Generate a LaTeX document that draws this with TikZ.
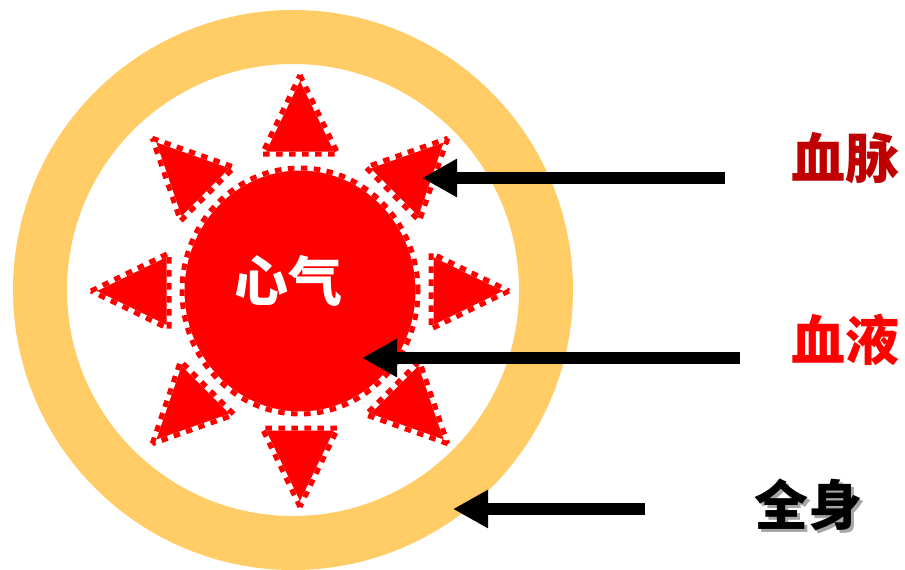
\documentclass[tikz,border=0pt]{standalone}
\usepackage{fontspec}
\newfontfamily\cjk{Noto Sans CJK SC}
\usetikzlibrary{arrows.meta,calc,shapes.geometric}
\definecolor{ringc}{HTML}{FFCC66}
\definecolor{darkred}{HTML}{C00000}
\definecolor{shadowgray}{HTML}{A6A6A6}
\newcommand{\shadowtext}[1]{\rlap{\kern3pt\raisebox{-3pt}{\textcolor{shadowgray}{#1}}}#1}
\begin{document}
\begin{tikzpicture}[x=1pt,y=-1pt,
  ray/.style={fill=red, draw=white, line width=5pt,
    postaction={draw=red, line width=5pt, dash pattern=on 6.5pt off 6.5pt}},
  heartc/.style={ellipse, inner sep=0pt, outer sep=0pt, minimum width=236pt,
    minimum height=246pt, fill=red, draw=white, line width=5pt,
    postaction={draw=red, line width=5pt, dash pattern=on 6.5pt off 6.5pt}},
  bigarrow/.style={line width=12.5pt, -{Triangle[length=35pt,width=36pt]}},
  lbl/.style={inner sep=0pt, font=\cjk\bfseries\fontsize{54}{54}\selectfont}]
\useasboundingbox (0,0) rectangle (905,570);
% whole body ring
\node[circle, draw=ringc, line width=54pt, inner sep=0pt, outer sep=0pt,
  minimum size=506pt] (body) at (293,290) {};
% sun
\coordinate (c) at (300,291);
\foreach \a in {0,45,...,315}{
  \path[ray] ($(c)+(\a:209 and 216)$) -- ($(c)+(\a:131 and 137)+(\a+90:38)$)
    -- ($(c)+(\a:131 and 137)+(\a-90:38)$) -- cycle;
}
\node[heartc] (heart) at (c) {};
\node[lbl, text=white] (xinqi) at (288,281) {心气};
% labels
\node[lbl, text=darkred] (xuemai) at (845,158) {血脉};
\node[lbl, text=red] (xueye) at (845,340) {血液};
\node[lbl, text=black] (quanshen) at (808,506) {\shadowtext{全身}};
% arrows
\coordinate (a1s) at (725,178); \coordinate (a1t) at (422,178);
\coordinate (a2s) at (740,358); \coordinate (a2t) at (362,358);
\coordinate (a3s) at (645,509); \coordinate (a3t) at (453,509);
\draw[bigarrow] (a1s) -- (a1t);
\draw[bigarrow] (a2s) -- (a2t);
\draw[bigarrow] (a3s) -- (a3t);
\end{tikzpicture}
\end{document}
